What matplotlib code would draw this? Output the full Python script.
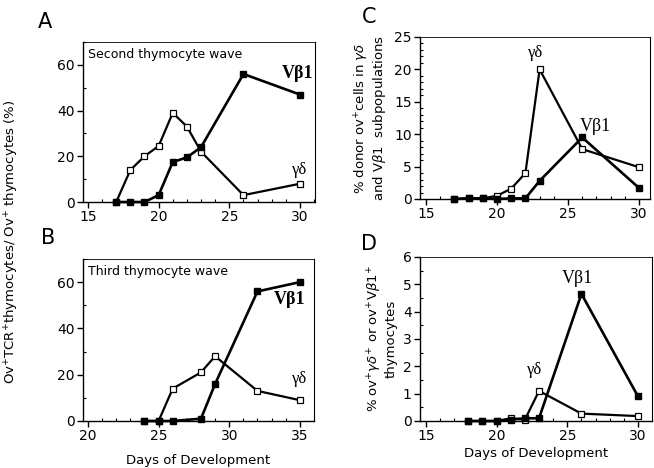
import matplotlib
matplotlib.use("Agg")
import matplotlib.pyplot as plt
from matplotlib.ticker import MultipleLocator

# ---- data ----
a_x = [17, 18, 19, 20, 21, 22, 23, 26, 30]
a_vb1 = [0, 0, 0, 3, 17.5, 19.5, 24, 56, 47]
a_gd = [0, 14, 20, 24.5, 39, 33, 22, 3, 8]

b_x = [24, 25, 26, 28, 29, 32, 35]
b_vb1 = [0, 0, 0, 1, 16, 56, 60]
b_gd = [0, 0, 14, 21, 28, 13, 9]

c_x = [17, 18, 19, 20, 21, 22, 23, 26, 30]
c_gd = [0, 0.1, 0.1, 0.5, 1.6, 4, 20, 7.7, 4.9]
c_vb1 = [0, 0.1, 0.1, 0, 0.1, 0.1, 2.8, 9.5, 1.7]

d_x = [18, 19, 20, 21, 22, 23, 26, 30]
d_vb1 = [0, 0, 0, 0.05, 0.1, 0.1, 4.65, 0.9]
d_gd = [0, 0, 0, 0.1, 0.05, 1.1, 0.27, 0.18]

W, H = 654, 468
fig = plt.figure(figsize=(W / 100, H / 100), dpi=100)

def ax_px(l, r, t, b):
    return fig.add_axes([l / W, (H - b) / H, (r - l) / W, (b - t) / H])

axA = ax_px(83, 315, 42, 202)
axB = ax_px(83, 314, 259, 421)
axC = ax_px(420, 650, 37, 199)
axD = ax_px(420, 652, 257, 421)

serif = "Liberation Serif"

def style(ax, xlim, ylim, xmaj, ymaj, ymin):
    ax.set_xlim(*xlim)
    ax.set_ylim(*ylim)
    ax.xaxis.set_major_locator(MultipleLocator(xmaj))
    ax.xaxis.set_minor_locator(MultipleLocator(1))
    ax.yaxis.set_major_locator(MultipleLocator(ymaj))
    ax.yaxis.set_minor_locator(MultipleLocator(ymin))
    ax.tick_params(which="major", direction="out", length=4, width=1, labelsize=10, pad=2)
    ax.tick_params(which="minor", direction="in", length=2.5, width=0.8)
    for s in ax.spines.values():
        s.set_linewidth(1)
    ax.spines["top"].set_linewidth(0.6)
    ax.spines["right"].set_linewidth(0.8)

def plot_pair(ax, x, vb1, gd):
    ax.plot(x, gd, "-", color="black", lw=1.6, marker="s", ms=5,
            mfc="white", mec="black", mew=0.9, zorder=3, clip_on=False)
    ax.plot(x, vb1, "-", color="black", lw=1.9, marker="s", ms=5,
            mfc="black", mec="black", zorder=4, clip_on=False)

# A
plot_pair(axA, a_x, a_vb1, a_gd)
style(axA, (14.65, 31.06), (0, 70), 5, 20, 10)
axA.set_yticks([0, 20, 40, 60])
axA.text(0.02, 0.965, "Second thymocyte wave", transform=axA.transAxes,
         ha="left", va="top", fontsize=9)
axA.text(29.8, 56, "Vβ1", family=serif, fontsize=13, ha="center", va="center", fontweight="bold")
axA.text(30, 14, "γδ", family=serif, fontsize=12, ha="center", va="center")

# B
plot_pair(axB, b_x, b_vb1, b_gd)
style(axB, (19.65, 36.0), (0, 70), 5, 20, 10)
axB.set_yticks([0, 20, 40, 60])
axB.text(0.02, 0.965, "Third thymocyte wave", transform=axB.transAxes,
         ha="left", va="top", fontsize=9)
axB.text(34.3, 52.5, "Vβ1", family=serif, fontsize=13, ha="center", va="center", fontweight="bold")
axB.text(35, 18, "γδ", family=serif, fontsize=12, ha="center", va="center")
axB.set_xlabel("Days of Development", fontsize=9.5, labelpad=8)

# C
plot_pair(axC, c_x, c_vb1, c_gd)
style(axC, (14.58, 30.77), (0, 25), 5, 5, 1)
axC.text(22.7, 22.6, "γδ", family=serif, fontsize=12, ha="center", va="center")
axC.text(26.9, 11.2, "Vβ1", family=serif, fontsize=13, ha="center", va="center")
axC.set_ylabel("% donor ov$^{+}$cells in $\\gamma\\delta$\nand V$\\beta$1  subpopulations",
               fontsize=9.5, labelpad=4, linespacing=1.0)

# D
plot_pair(axD, d_x, d_vb1, d_gd)
style(axD, (14.58, 30.99), (0, 6), 5, 1, 0.5)
axD.text(25.7, 5.2, "Vβ1", family=serif, fontsize=13, ha="center", va="center")
axD.text(22.7, 1.85, "γδ", family=serif, fontsize=12, ha="center", va="center")
axD.set_ylabel("% ov$^{+}\\gamma\\delta^{+}$ or ov$^{+}$V$\\beta$1$^{+}$\nthymocytes",
               fontsize=9.5, labelpad=4, linespacing=1.0)
axD.set_xlabel("Days of Development", fontsize=9.5, labelpad=3)

# shared y label for A and B
fig.text(12 / W, 1 - 242 / H, "Ov$^{+}$TCR$^{+}$thymocytes/ Ov$^{+}$ thymocytes (%)",
         rotation=90, ha="center", va="center", fontsize=9.5)

# panel letters
for lbl, (px, py) in {"A": (45, 22), "B": (48, 238), "C": (369, 17), "D": (369, 244)}.items():
    fig.text(px / W, 1 - py / H, lbl, fontsize=15, ha="center", va="center")

fig.savefig("out.png", dpi=100)
